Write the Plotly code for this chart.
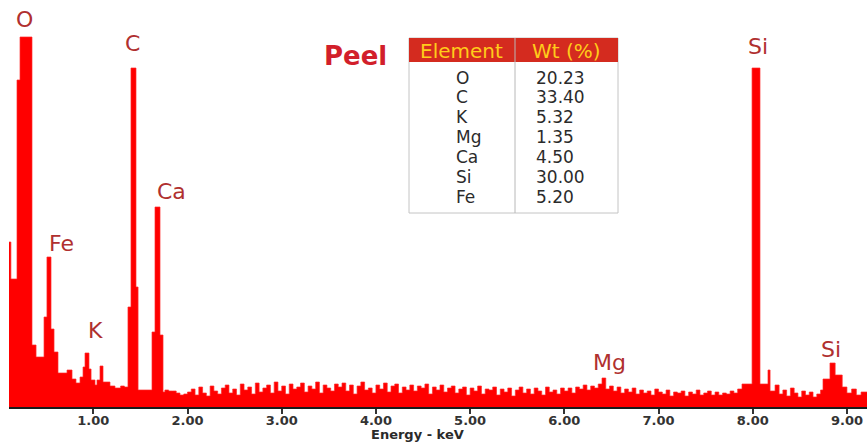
import plotly.graph_objects as go

# ---- EDS spectrum (counts per energy bin, bin start energies in keV) ----
# low-energy region with the O, Fe, K, C and Ca lines (irregular bins)
low_edges = [0.105, 0.125, 0.190, 0.222, 0.349, 0.392, 0.477, 0.508, 0.551, 0.583,
             0.625, 0.721, 0.774, 0.816, 0.859, 0.891, 0.912, 0.954, 0.976, 1.018,
             1.039, 1.071, 1.103, 1.177, 1.230, 1.290, 1.330, 1.368, 1.400, 1.453,
             1.475, 1.623, 1.655, 1.708, 1.740]
low_counts = [165, 128, 327, 370, 62, 50, 90, 150, 78, 55,
              34, 37, 28, 24, 30, 40, 54, 38, 27, 22,
              27, 41, 25, 21, 19, 21, 20, 100, 339, 120,
              17, 75, 200, 72, 15]

# background channels, 0.04 keV wide, from 1.76 keV (includes the Mg line)
bg_start = 1.76
bg_step = 0.04
bg_counts = [17, 16, 16, 14, 12, 13,
             15, 18, 12, 20, 14, 11, 21, 16, 13, 19,
             22, 14, 18, 12, 23, 17, 20, 13, 24, 15,
             19, 22, 14, 25, 16, 21, 13, 23, 18, 20,
             24, 15, 21, 18, 25, 14, 22, 19, 16, 23,
             20, 24, 16, 22, 13, 21, 25, 17, 19, 14,
             22, 18, 24, 15, 21, 23, 14, 20, 17, 22,
             16, 21, 19, 23, 13, 20, 17, 22, 15, 19,
             21, 14, 18, 20, 12, 19, 16, 21, 13, 18,
             17, 20, 12, 18, 15, 19, 11, 17, 20, 14,
             18, 13, 19, 16, 12, 20, 15, 17, 13, 19,
             16, 19, 14, 20, 18, 22, 17, 21, 19, 23,
             29, 18, 21, 16, 20, 14, 18, 15, 19, 13,
             17, 14, 16, 12, 18, 15, 13, 17, 11, 15,
             14, 16, 11, 15, 13, 17, 12, 14, 16, 12,
             15, 12, 14, 13, 16, 14]

# high-energy region with the Si lines (irregular bins)
si_edges = [7.840, 7.886, 7.993, 8.077, 8.162, 8.184, 8.237, 8.28, 8.32, 8.36,
            8.40, 8.44, 8.48, 8.52, 8.56, 8.60, 8.64, 8.68, 8.72, 8.746,
            8.82, 8.875, 8.95, 9.00, 9.05, 9.10, 9.15]
si_counts = [18, 23, 339, 23, 37, 16, 22, 13, 17, 11,
             19, 14, 10, 16, 12, 15, 10, 13, 17, 28,
             44, 32, 20, 14, 18, 12, 15]
spectrum_end = 9.22

# peak labels
peak_labels = ["O", "C", "Ca", "Fe", "K", "Mg", "Si", "Si"]

# composition table
table_header = ["Element", "Wt (%)"]
elements = ["O", "C", "K", "Mg", "Ca", "Si", "Fe"]
wt_percent = ["20.23", "33.40", "5.32", "1.35", "4.50", "30.00", "5.20"]
sample_name = "Peel"

# x axis ticks
tick_vals = [1, 2, 3, 4, 5, 6, 7, 8, 9]
tick_text = ["1.00", "2.00", "3.00", "4.00", "5.00", "6.00", "7.00", "8.00", "9.00"]

# ---- assemble step outline ----
bg_edges = [round(bg_start + bg_step * i, 3) for i in range(len(bg_counts))]
energy = low_edges + bg_edges + si_edges + [spectrum_end]
counts = low_counts + bg_counts + si_counts + [si_counts[-1]]

W, H = 867, 443
ML, MR, MT, MB = 9, 0, 0, 36
PW, PH = W - ML - MR, H - MT - MB


def fx(px):
    return (px - ML) / PW


def fy(py):
    return 1 - (py - MT) / PH


fig = go.Figure()
fig.add_trace(go.Scatter(
    x=energy, y=counts, mode="lines", line_shape="hv",
    line=dict(color="rgba(255,40,40,0.85)", width=0.8),
    fill="tozeroy", fillcolor="#ff0000", hoverinfo="skip", showlegend=False,
))

annotations = []
label_font = dict(family="DejaVu Sans", size=22, color="#b0302f")
label_pos = [(24, 20), (132, 43), (171, 191), (61, 243), (95, 330), (609, 362), (758, 46), (831, 349)]
for txt, (x, y) in zip(peak_labels, label_pos):
    annotations.append(dict(text=txt, x=fx(x), y=fy(y), xref="paper", yref="paper",
                            showarrow=False, xanchor="center", yanchor="middle", font=label_font))

annotations.append(dict(text="<b>%s</b>" % sample_name, x=fx(355), y=fy(56), xref="paper", yref="paper",
                        showarrow=False, xanchor="center", yanchor="middle",
                        font=dict(family="DejaVu Sans", size=26, color="#d21f2b")))

# table
tx0, tx1, ty0, ty1, tdiv, thead = 409, 618, 38, 213, 515, 62
shapes = [
    dict(type="rect", xref="paper", yref="paper", x0=fx(tx0), x1=fx(tx1), y0=fy(ty1), y1=fy(ty0),
         line=dict(color="#c4c4c4", width=1), fillcolor="white", layer="above"),
    dict(type="rect", xref="paper", yref="paper", x0=fx(tx0), x1=fx(tx1), y0=fy(thead), y1=fy(ty0),
         line=dict(width=0), fillcolor="#d42b1f", layer="above"),
    dict(type="line", xref="paper", yref="paper", x0=fx(tdiv), x1=fx(tdiv), y0=fy(ty1), y1=fy(ty0),
         line=dict(color="#b8b8b8", width=1), layer="above"),
]
head_font = dict(family="DejaVu Sans", size=20, color="#ffcc1a")
annotations.append(dict(text=table_header[0], x=fx(461), y=fy(51), xref="paper", yref="paper",
                        showarrow=False, xanchor="center", yanchor="middle", font=head_font))
annotations.append(dict(text=table_header[1], x=fx(566), y=fy(51), xref="paper", yref="paper",
                        showarrow=False, xanchor="center", yanchor="middle", font=head_font))
body_font = dict(family="DejaVu Sans", size=17, color="#2b2b2b")
row_y = [78, 97.5, 117, 137, 157, 177, 197]
for el, wt, y in zip(elements, wt_percent, row_y):
    annotations.append(dict(text=el, x=fx(454), y=fy(y), xref="paper", yref="paper",
                            showarrow=False, xanchor="left", yanchor="middle", font=body_font))
    annotations.append(dict(text=wt, x=fx(534), y=fy(y), xref="paper", yref="paper",
                            showarrow=False, xanchor="left", yanchor="middle", font=body_font))

# axis title, sitting on the bottom edge of the figure
annotations.append(dict(text="<b>Energy - keV</b>", x=fx(417), y=fy(443), xref="paper", yref="paper",
                        showarrow=False, xanchor="center", yanchor="bottom", borderpad=0,
                        font=dict(family="DejaVu Sans", size=13, color="#2a2a2a")))

fig.update_layout(
    width=W, height=H,
    margin=dict(l=ML, r=MR, t=MT, b=MB),
    paper_bgcolor="white", plot_bgcolor="white",
    xaxis=dict(range=[0.105, 9.213], tickvals=tick_vals, ticktext=tick_text,
               showline=True, linecolor="#1a1a1a", linewidth=2,
               ticks="outside", ticklen=5, tickwidth=1.5, tickcolor="#333",
               ticklabelstandoff=-5,
               showgrid=False, zeroline=False,
               tickfont=dict(family="DejaVu Sans", size=13, color="#333", weight="bold")),
    yaxis=dict(range=[0, 407], visible=False, showgrid=False, zeroline=False),
    annotations=annotations, shapes=shapes,
)

fig.write_html("out.html")
